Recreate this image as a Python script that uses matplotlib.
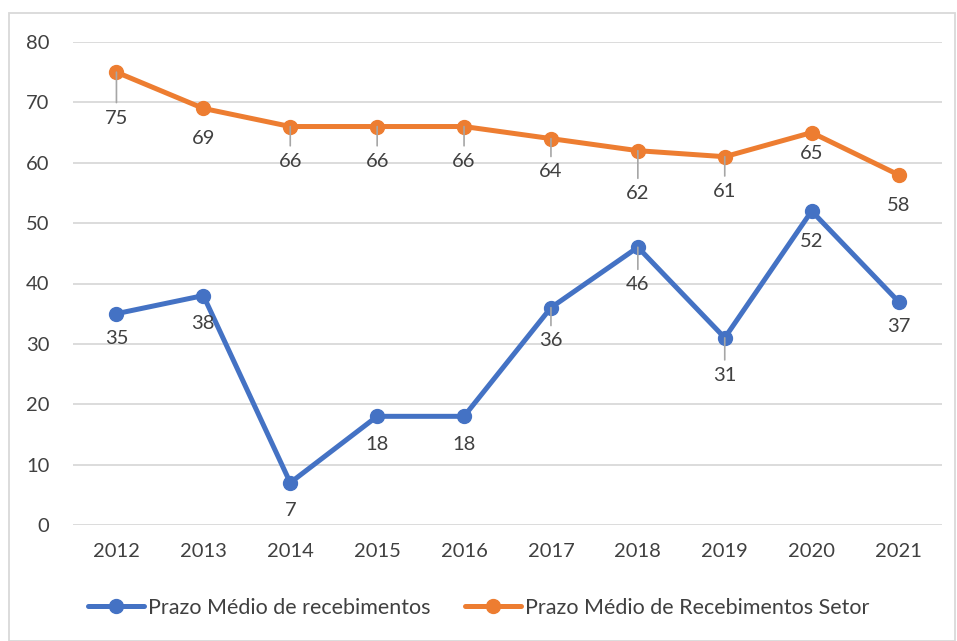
import matplotlib.pyplot as plt
from matplotlib.patches import Rectangle

plt.rcParams['font.family'] = ['Lato', 'DejaVu Sans']

anos = ['2012', '2013', '2014', '2015', '2016', '2017', '2018', '2019', '2020', '2021']
prazo_empresa = [35, 38, 7, 18, 18, 36, 46, 31, 52, 37]
prazo_setor = [75, 69, 66, 66, 66, 64, 62, 61, 65, 58]

# label offsets below each point (points)
off_empresa = [-18, -20, -20, -20, -20, -24, -27, -27, -22, -18]
off_setor = [-33, -22, -25, -25, -25, -24, -31, -25, -15, -22]

azul = '#4472C4'
laranja = '#ED7D31'
texto = '#404040'

fig = plt.figure(figsize=(9.57, 6.41), dpi=100)
ax = fig.add_axes([73/957, 116/641, 869/957, 483/641])

x = list(range(len(anos)))
ax.plot(x, prazo_empresa, color=azul, lw=3.6, marker='o', ms=10,
        label='Prazo Médio de recebimentos', solid_capstyle='round')
ax.plot(x, prazo_setor, color=laranja, lw=3.6, marker='o', ms=10,
        label='Prazo Médio de Recebimentos Setor', solid_capstyle='round')

for vals, offs in ((prazo_empresa, off_empresa), (prazo_setor, off_setor)):
    for xi, v, o in zip(x, vals, offs):
        lead = dict(arrowstyle='-', color='#A6A6A6', lw=1.2, shrinkA=3, shrinkB=0) if o <= -24 else None
        ax.annotate(str(v), (xi, v), xytext=(0, o), textcoords='offset points',
                    ha='center', va='center', fontsize=14.5, color=texto,
                    arrowprops=lead, zorder=4)

ax.set_xlim(-0.5, len(anos) - 0.5)
ax.set_ylim(0, 80)
ax.set_yticks(range(0, 81, 10))
ax.set_xticks(x)
ax.set_xticklabels(anos)
ax.grid(axis='y', color='#D9D9D9', lw=1.3)
ax.set_axisbelow(True)
for s in ax.spines.values():
    s.set_visible(False)
ax.tick_params(length=0, labelsize=14.5, colors=texto, pad=13)
ax.tick_params(axis='y', pad=17)

fig.legend(loc='center', bbox_to_anchor=(0.5, 1 - 608/641), ncol=2, frameon=False,
           fontsize=15.5, labelcolor=texto, handlelength=2.6, columnspacing=1.6, handletextpad=0.2)

fig.patches.append(Rectangle((9/957, 0), 946/957, 1 - 13/641, transform=fig.transFigure,
                             fill=False, edgecolor='#D9D9D9', lw=1.3))

fig.savefig('out.png', dpi=100)
